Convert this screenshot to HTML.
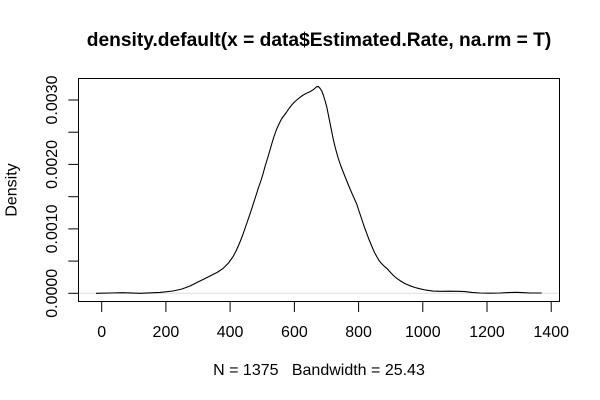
<!DOCTYPE html>
<html>
<head>
<meta charset="utf-8">
<style>
html,body{margin:0;padding:0;background:#fff;}
svg{display:block;}
text{font-family:"Liberation Sans",Arial,sans-serif;fill:#000;}
</style>
</head>
<body>
<svg width="600" height="400" viewBox="0 0 600 400" xmlns="http://www.w3.org/2000/svg">
<rect x="0" y="0" width="600" height="400" fill="#fff"/>
<!-- title -->
<text x="319" y="46" font-size="19.2" font-weight="bold" text-anchor="middle">density.default(x = data$Estimated.Rate, na.rm = T)</text>
<!-- zero line -->
<line x1="78.5" y1="293.3" x2="559.5" y2="293.3" stroke="#bebebe" stroke-width="1" opacity="0.5"/>
<!-- curve -->
<polyline fill="none" stroke="#000" stroke-width="1.1" stroke-linejoin="round" points="96,293.3 110,293 123,292.7 140,293.3 160,292.4 173,291 182,289 190,286 200,281 210,276 217,272.5 223.3,268.3 228.5,263 233.3,256.2 236,251 238.5,245.5 241,239.5 243.3,233.3 246,225.5 248.5,218.3 251,211 253.3,203.8 256,195.5 258.5,187.5 261,180.5 263,174 265,166.5 267.5,158.5 270,150 272,143 274,136.5 276.7,129 279,124 281.5,119 284,115.5 286.7,112 289,108.5 291.5,105.3 294,102.5 296.7,100 300,97.3 303.3,95 306.5,93.2 310,91.7 313.5,89.5 316.7,86.7 318.5,86.6 320,88.3 321.8,91 323.3,95 325,100.5 326.7,106.7 328.3,114.5 330,123 331.7,131.5 333.3,139.5 335.5,148.5 338,157.5 341,166.5 344,174 348,184 352,193.5 356.7,204 359,211 361.5,218.5 364,226 366.7,233.3 369,239.5 371.5,245.5 374,251.5 376.7,256.5 379,260.5 381.5,263.5 384,266 386.7,268.3 389,270.8 391.5,273.5 394,276 396.7,278.3 400,280.6 405,283.6 410,285.8 415,287.5 420,288.8 425,289.9 433,291.1 441,291.3 450,291.2 458,291.3 465,291.6 472,292.4 480,293 490,293.2 500,293 508,292.6 516.7,292.3 524,292.7 530,293 541.7,293"/>
<!-- box -->
<rect x="78.5" y="78.5" width="481" height="223" fill="none" stroke="#000" stroke-width="1"/>
<!-- x axis ticks -->
<g stroke="#000" stroke-width="1">
<line x1="101.7" y1="302" x2="101.7" y2="312"/>
<line x1="165.9" y1="302" x2="165.9" y2="312"/>
<line x1="230.1" y1="302" x2="230.1" y2="312"/>
<line x1="294.4" y1="302" x2="294.4" y2="312"/>
<line x1="358.6" y1="302" x2="358.6" y2="312"/>
<line x1="422.8" y1="302" x2="422.8" y2="312"/>
<line x1="487.0" y1="302" x2="487.0" y2="312"/>
<line x1="551.2" y1="302" x2="551.2" y2="312"/>
</g>
<g font-size="16" text-anchor="middle">
<text x="101.7" y="337">0</text>
<text x="165.9" y="337">200</text>
<text x="230.1" y="337">400</text>
<text x="294.4" y="337">600</text>
<text x="358.6" y="337">800</text>
<text x="422.8" y="337">1000</text>
<text x="487.0" y="337">1200</text>
<text x="551.2" y="337">1400</text>
</g>
<!-- y axis ticks -->
<g stroke="#000" stroke-width="1">
<line x1="68.3" y1="293.3" x2="78.5" y2="293.3"/>
<line x1="68.3" y1="261.1" x2="78.5" y2="261.1"/>
<line x1="68.3" y1="228.9" x2="78.5" y2="228.9"/>
<line x1="68.3" y1="196.7" x2="78.5" y2="196.7"/>
<line x1="68.3" y1="164.4" x2="78.5" y2="164.4"/>
<line x1="68.3" y1="132.2" x2="78.5" y2="132.2"/>
<line x1="68.3" y1="100.0" x2="78.5" y2="100.0"/>
</g>
<g font-size="16" text-anchor="middle">
<text transform="translate(56.8,293.3) rotate(-90)">0.0000</text>
<text transform="translate(56.8,228.9) rotate(-90)">0.0010</text>
<text transform="translate(56.8,164.4) rotate(-90)">0.0020</text>
<text transform="translate(56.8,100.0) rotate(-90)">0.0030</text>
<text transform="translate(16.5,190) rotate(-90)">Density</text>
</g>
<!-- sub -->
<text x="319" y="375" font-size="16" text-anchor="middle" xml:space="preserve">N = 1375   Bandwidth = 25.43</text>
</svg>
</body>
</html>
